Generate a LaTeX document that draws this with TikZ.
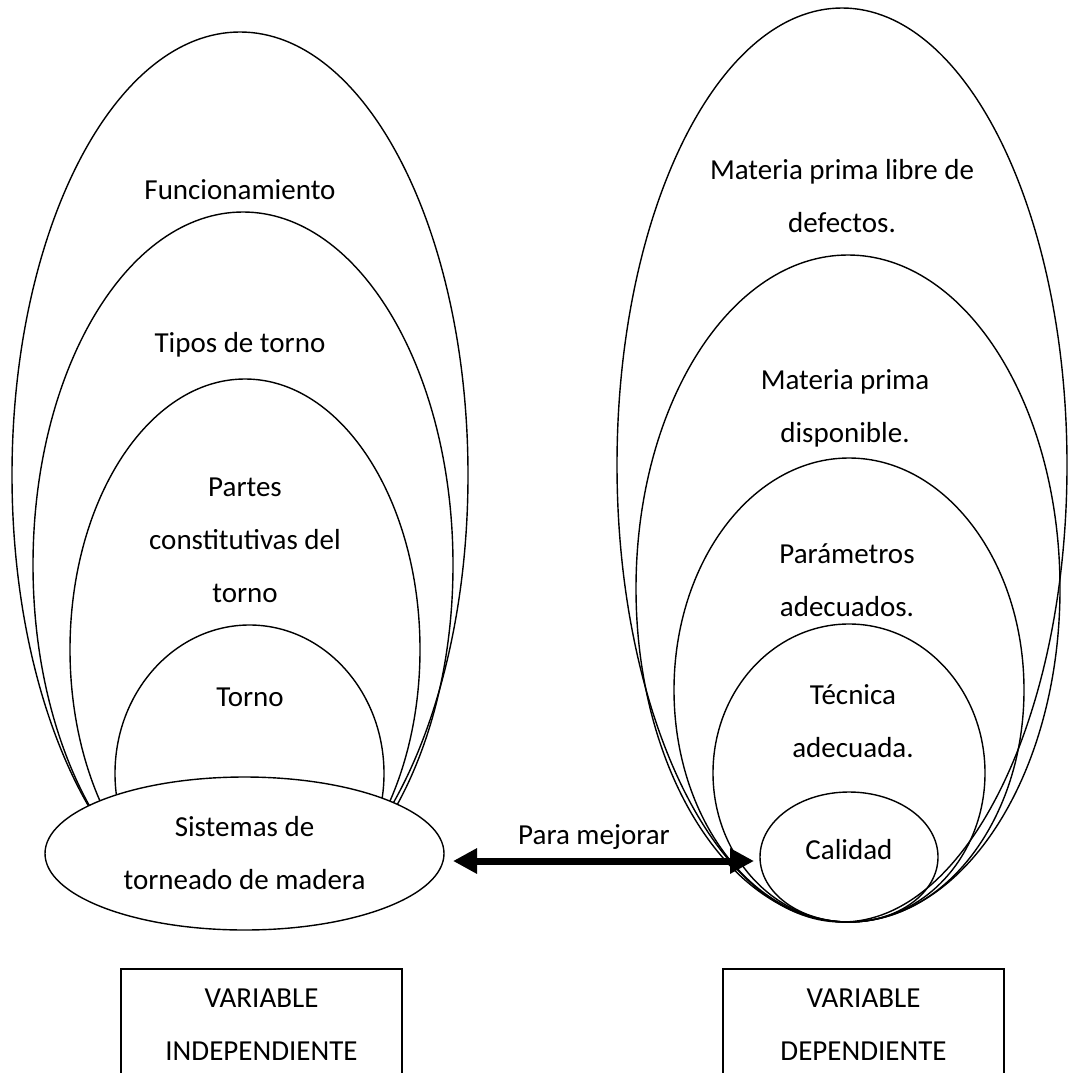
\documentclass[tikz,border=0pt]{standalone}
\usepackage{fontspec}
\setmainfont{Carlito}
\usetikzlibrary{arrows.meta,shapes.geometric}
\begin{document}
\begin{tikzpicture}[x=1pt,y=-1pt,
  ring/.style={line width=1.4pt},
  lbl/.style={font=\fontsize{29}{53}\selectfont, align=center, inner sep=0pt},
  fatarrow/.style={line width=7pt, {Triangle[length=24pt,width=24pt]}-{Triangle[length=24pt,width=24pt]}}]
\useasboundingbox[fill=white] (0,0) rectangle (1069,1073);
% left nested ellipses
\draw[ring] (240,475) ellipse [x radius=228pt, y radius=443pt];
\draw[ring] (243,565) ellipse [x radius=210pt, y radius=353pt];
\draw[ring] (245,649.5) ellipse [x radius=175pt, y radius=270.5pt];
\draw[ring] (249.5,773.5) ellipse [x radius=134.5pt, y radius=148.5pt];
\node[ellipse, draw, ring, fill=white, minimum width=399pt, minimum height=153pt, lbl] (sis) at (244.5,853.5) {Sistemas de\\torneado de madera};
% right nested ellipses
\draw[ring] (842,465) ellipse [x radius=225pt, y radius=457pt];
\draw[ring] (848,588.5) ellipse [x radius=212pt, y radius=333.5pt];
\draw[ring] (849,690) ellipse [x radius=175pt, y radius=232pt];
\draw[ring] (849,773) ellipse [x radius=136pt, y radius=149pt];
\node[ellipse, draw, ring, minimum width=178pt, minimum height=130pt, inner sep=0pt] (cal) at (849,857) {};
% labels
\node[lbl] (fun) at (240,190) {Funcionamiento};
\node[lbl] (tip) at (240,345) {Tipos de torno};
\node[lbl] (par) at (245,540) {Partes\\constitutivas del\\torno};
\node[lbl] (tor) at (250,697) {Torno};
\node[lbl] (mpl) at (842,196.5) {Materia prima libre de\\defectos.};
\node[lbl] (mpd) at (845,408.5) {Materia prima\\disponible.};
\node[lbl] (pad) at (847,580.5) {Parámetros\\adecuados.};
\node[lbl] (tad) at (853,721) {Técnica\\adecuada.};
\node[lbl] (calt) at (849,850) {Calidad};
% arrow
\coordinate (aL) at (453,861);
\coordinate (aR) at (754,861);
\draw[fatarrow] (aL) -- (aR);
\node[lbl] (para) at (594,837) {Para mejorar};
% boxes (cut by the bottom edge)
\draw[ring] (121,1080) |- (402,969) -- (402,1080);
\draw[ring] (723,1080) |- (1004,969) -- (1004,1080);
\node[lbl] (vi) at (261.5,1025) {VARIABLE\\INDEPENDIENTE};
\node[lbl] (vd) at (863.5,1025) {VARIABLE\\DEPENDIENTE};
\end{tikzpicture}
\end{document}
